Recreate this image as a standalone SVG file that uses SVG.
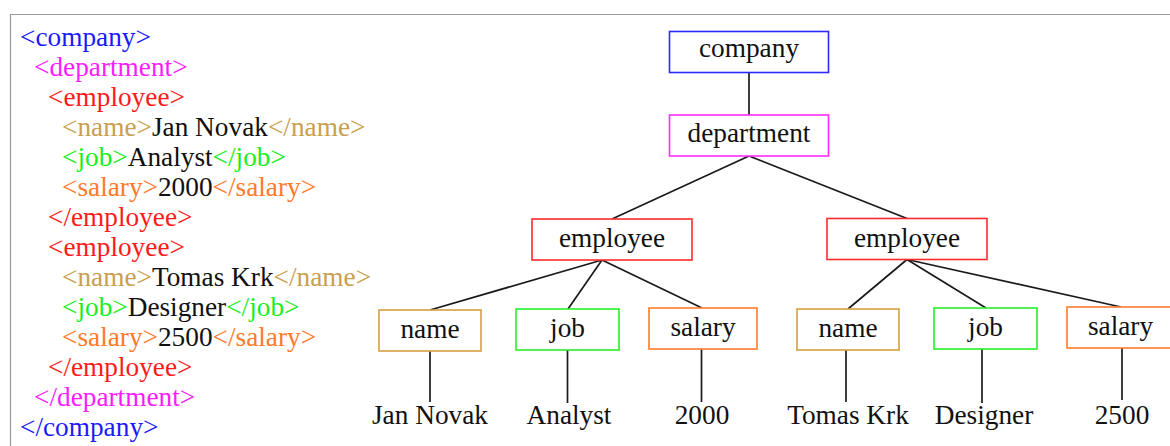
<svg xmlns="http://www.w3.org/2000/svg" width="1170" height="446" viewBox="0 0 1170 446">
<style>
text{font-family:"Liberation Serif","Times New Roman",serif;font-size:27.3px;fill:#111}
.c1{fill:#1a1aff}.c2{fill:#ff1aff}.c3{fill:#ff1a1a}.c4{fill:#c9a04e}.c5{fill:#1aee1a}.c6{fill:#ff7a2a}.k{fill:#111}
.box{fill:#fff;stroke-width:1.6}
.b1{stroke:#2a2aff}.b2{stroke:#ff2aff}.b3{stroke:#ff2a2a}.b4{stroke:#d4a040}.b5{stroke:#2aee2a}.b6{stroke:#ff7a2a}
.lbl{text-anchor:middle}
.edge{stroke:#1a1a1a;stroke-width:1.7;fill:none}
</style>
<rect width="1170" height="446" fill="#fff"/>
<path d="M10.5 446 V14.5 H1170" fill="none" stroke="#9a9a9a" stroke-width="1.2"/>
<g id="xml-source">
<text x="20" y="46" class="c1">&lt;company&gt;</text>
<text x="34" y="76" class="c2">&lt;department&gt;</text>
<text x="48" y="106" class="c3">&lt;employee&gt;</text>
<text x="62" y="136"><tspan class="c4">&lt;name&gt;</tspan><tspan class="k">Jan Novak</tspan><tspan class="c4">&lt;/name&gt;</tspan></text>
<text x="62" y="166"><tspan class="c5">&lt;job&gt;</tspan><tspan class="k">Analyst</tspan><tspan class="c5">&lt;/job&gt;</tspan></text>
<text x="62" y="196"><tspan class="c6">&lt;salary&gt;</tspan><tspan class="k">2000</tspan><tspan class="c6">&lt;/salary&gt;</tspan></text>
<text x="48" y="226" class="c3">&lt;/employee&gt;</text>
<text x="48" y="256" class="c3">&lt;employee&gt;</text>
<text x="62" y="286"><tspan class="c4">&lt;name&gt;</tspan><tspan class="k">Tomas Krk</tspan><tspan class="c4">&lt;/name&gt;</tspan></text>
<text x="62" y="316"><tspan class="c5">&lt;job&gt;</tspan><tspan class="k">Designer</tspan><tspan class="c5">&lt;/job&gt;</tspan></text>
<text x="62" y="346"><tspan class="c6">&lt;salary&gt;</tspan><tspan class="k">2500</tspan><tspan class="c6">&lt;/salary&gt;</tspan></text>
<text x="48" y="376" class="c3">&lt;/employee&gt;</text>
<text x="34" y="406" class="c2">&lt;/department&gt;</text>
<text x="20" y="436" class="c1">&lt;/company&gt;</text>
</g>
<g id="connectors">
<line class="edge" x1="749" y1="72.5" x2="749" y2="115"/>
<line class="edge" x1="749" y1="156" x2="612" y2="219"/>
<line class="edge" x1="749" y1="156" x2="907" y2="218.5"/>
<line class="edge" x1="602" y1="260" x2="430" y2="310"/>
<line class="edge" x1="602" y1="260" x2="568" y2="309"/>
<line class="edge" x1="602" y1="260" x2="702" y2="308"/>
<line class="edge" x1="907" y1="259.5" x2="848" y2="309"/>
<line class="edge" x1="907" y1="259.5" x2="986" y2="308"/>
<line class="edge" x1="907" y1="259.5" x2="1121" y2="307"/>
<line class="edge" x1="430" y1="351" x2="430" y2="402"/>
<line class="edge" x1="567.5" y1="350" x2="567.5" y2="403"/>
<line class="edge" x1="701.5" y1="349" x2="701.5" y2="402"/>
<line class="edge" x1="846" y1="350" x2="846" y2="402"/>
<line class="edge" x1="982" y1="349" x2="982" y2="403"/>
<line class="edge" x1="1122" y1="348" x2="1122" y2="400"/>
</g>
<g id="company"><rect class="box b1" x="669.5" y="31.5" width="159" height="41"/><text class="lbl" x="749" y="57">company</text></g>
<g id="department"><rect class="box b2" x="669.5" y="115" width="159" height="41"/><text class="lbl" x="749" y="142">department</text></g>
<g id="employee1"><rect class="box b3" x="532" y="219" width="160" height="41"/><text class="lbl" x="612" y="247">employee</text></g>
<g id="employee2"><rect class="box b3" x="827" y="218.5" width="160" height="41"/><text class="lbl" x="907" y="246.5">employee</text></g>
<g id="name1"><rect class="box b4" x="379" y="310" width="102" height="41"/><text class="lbl" x="430" y="338">name</text></g>
<g id="job1"><rect class="box b5" x="516" y="309" width="103" height="41"/><text class="lbl" x="567.5" y="337">job</text></g>
<g id="salary1"><rect class="box b6" x="649" y="308" width="108" height="41"/><text class="lbl" x="703" y="336">salary</text></g>
<g id="name2"><rect class="box b4" x="797" y="309" width="102" height="41"/><text class="lbl" x="848" y="337">name</text></g>
<g id="job2"><rect class="box b5" x="934" y="308" width="103" height="41"/><text class="lbl" x="985.5" y="336">job</text></g>
<g id="salary2"><rect class="box b6" x="1067" y="307" width="110" height="41"/><text class="lbl" x="1120.5" y="335">salary</text></g>
<g id="values">
<text class="lbl" x="430" y="424">Jan Novak</text>
<text class="lbl" x="569" y="424">Analyst</text>
<text class="lbl" x="702" y="424">2000</text>
<text class="lbl" x="848" y="424">Tomas Krk</text>
<text class="lbl" x="984" y="424">Designer</text>
<text class="lbl" x="1122" y="424">2500</text>
</g>
</svg>
